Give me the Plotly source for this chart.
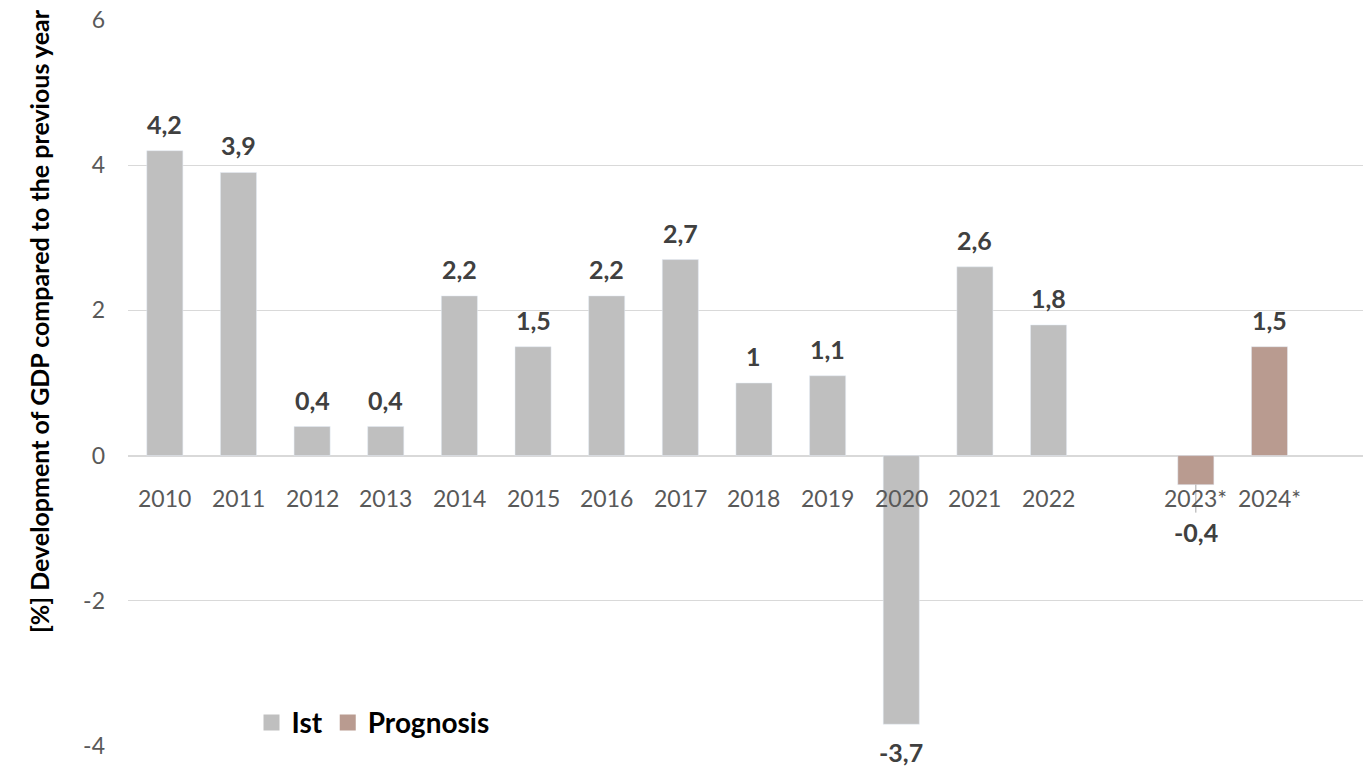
import plotly.graph_objects as go

# ---- data ----
years_ist = ["2010", "2011", "2012", "2013", "2014", "2015", "2016", "2017",
             "2018", "2019", "2020", "2021", "2022"]
values_ist = [4.2, 3.9, 0.4, 0.4, 2.2, 1.5, 2.2, 2.7, 1.0, 1.1, -3.7, 2.6, 1.8]
years_prog = ["2023*", "2024*"]
values_prog = [-0.4, 1.5]
gap_category = " "
y_ticks = [-4, -2, 0, 2, 4, 6]
y_title = "[%] Development of GDP compared to the previous year"

# ---- style ----
FONT = "Lato"
C_IST = "#BFBFBF"
C_PROG = "#B99B90"
C_LABEL = "#404040"
C_TICK = "#595959"
C_GRID = "#D9D9D9"

categories = years_ist + [gap_category] + years_prog


def fmt(v):
    return f"{v:g}".replace(".", ",")


def pos(c):
    return categories.index(c)


fig = go.Figure()
fig.add_trace(go.Bar(x=years_ist, y=values_ist, marker_color=C_IST, width=0.49,
                     showlegend=False, hoverinfo="x+y"))
fig.add_trace(go.Bar(x=years_prog, y=values_prog, marker_color=C_PROG, width=0.49,
                     showlegend=False, hoverinfo="x+y"))
# legend entries (large square markers)
fig.add_trace(go.Scatter(x=[None], y=[None], mode="markers", name="<b>Ist</b>",
                         marker=dict(symbol="square", size=19, color=C_IST)))
fig.add_trace(go.Scatter(x=[None], y=[None], mode="markers", name="<b>Prognosis</b>",
                         marker=dict(symbol="square", size=19, color=C_PROG)))

annotations = []
# category labels sitting under the zero line
for c in years_ist + years_prog:
    annotations.append(dict(x=pos(c), y=0, xref="x", yref="y", text=c, showarrow=False,
                            yanchor="top", yshift=-26,
                            font=dict(family=FONT, size=23, color=C_TICK)))

shapes = []
# data labels
for cats, vals in ((years_ist, values_ist), (years_prog, values_prog)):
    for c, v in zip(cats, vals):
        if v >= 0:
            annotations.append(dict(x=pos(c), y=v, xref="x", yref="y", text=f"<b>{fmt(v)}</b>",
                                    showarrow=False, yanchor="bottom", yshift=10,
                                    font=dict(family=FONT, size=25, color=C_LABEL)))
        else:
            near_axis = v > -1
            shift = -30 if near_axis else -11
            annotations.append(dict(x=pos(c), y=v, xref="x", yref="y", text=f"<b>{fmt(v)}</b>",
                                    showarrow=False, yanchor="top", yshift=shift,
                                    font=dict(family=FONT, size=25, color=C_LABEL)))
            if near_axis:
                shapes.append(dict(type="line", xref="x", yref="y", x0=pos(c), x1=pos(c),
                                   ysizemode="pixel", yanchor=v, y0=0, y1=-28,
                                   line=dict(color="#A6A6A6", width=1)))

# y-axis title
annotations.append(dict(x=-0.072, y=0.5 + (383 - 321) / 726, xref="paper", yref="paper",
                        text=f"<b>{y_title}</b>", textangle=-90, showarrow=False,
                        xanchor="center", yanchor="middle",
                        font=dict(family=FONT, size=25, color="#000000")))

fig.update_layout(
    width=1363, height=766,
    margin=dict(l=128, r=0, t=20, b=20),
    paper_bgcolor="white", plot_bgcolor="white",
    barmode="overlay",
    xaxis=dict(type="category", categoryorder="array", categoryarray=categories,
               range=[-0.5, 16.27], showticklabels=False, showgrid=False,
               zeroline=False, showline=False, ticks=""),
    yaxis=dict(range=[-4, 6], tickvals=y_ticks, ticktext=[str(t) for t in y_ticks],
               showgrid=True, gridcolor=C_GRID,
               gridwidth=1, zeroline=True, zerolinecolor=C_GRID, zerolinewidth=2,
               ticklabelstandoff=22,
               tickfont=dict(family=FONT, size=23, color=C_TICK)),
    legend=dict(orientation="h", x=0.1, y=0.032, xanchor="left", yanchor="middle",
                font=dict(family=FONT, size=28, color="#000000"),
                bgcolor="rgba(0,0,0,0)", itemclick=False),
    annotations=annotations,
    shapes=shapes,
    font=dict(family=FONT),
)

fig.write_html("out.html")
